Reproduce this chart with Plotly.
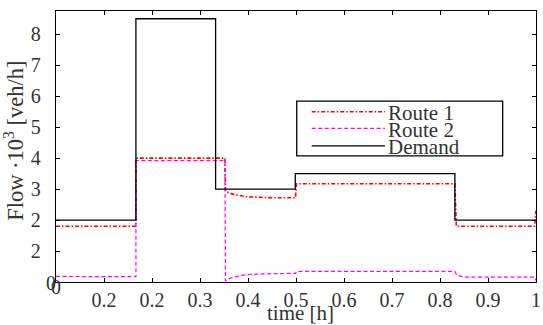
import plotly.graph_objects as go

# Demand steps (value holds from each time until the next)
t_demand = [0.0, 0.1665, 0.3325, 0.4985, 0.831, 1.0]
demand = [2.0, 8.5, 3.0, 3.5, 2.0, 2.0]

# Route 1 flow
t_route1 = [0.0, 0.1665, 0.1665, 0.352, 0.353, 0.36, 0.37, 0.38, 0.39, 0.40,
            0.42, 0.45, 0.499, 0.501, 0.831, 0.834, 0.997, 1.0]
route1 = [1.8, 1.8, 4.0, 4.0, 2.95, 2.88, 2.83, 2.79, 2.77, 2.75,
          2.73, 2.72, 2.72, 3.17, 3.17, 1.8, 1.8, 2.3]

# Route 2 flow
t_route2 = [0.0, 0.1665, 0.1665, 0.352, 0.353, 0.36, 0.37, 0.38, 0.39, 0.40,
            0.42, 0.45, 0.499, 0.501, 0.831, 0.835, 0.85, 0.997, 1.0]
route2 = [0.18, 0.17, 3.92, 3.92, 0.03, 0.10, 0.16, 0.20, 0.22, 0.24,
          0.26, 0.27, 0.28, 0.34, 0.34, 0.22, 0.16, 0.16, 0.05]

x_tickvals = [0.1, 0.2, 0.3, 0.4, 0.5, 0.6, 0.7, 0.8, 0.9, 1.0]
x_ticktext = ["0.2", "0.2", "0.3", "0.4", "0.5", "0.6", "0.7", "0.8", "0.9", "1"]
y_tickvals = [1, 2, 3, 4, 5, 6, 7, 8]
y_ticktext = ["2", "2", "3", "4", "5", "6", "7", "8"]

legend_names = ["Route 1", "Route 2", "Demand"]

FONT = "Liberation Serif"
TEXT = "#333333"
RED, MAGENTA, BLACK = "#ff0000", "#ff00ff", "#000000"
DASH1 = "4px,2px,1.5px,2px"
DASH2 = "4px,2.5px"

fig = go.Figure()
fig.add_trace(go.Scatter(x=t_route1, y=route1, mode="lines",
                         line=dict(color=RED, width=1.6, dash=DASH1)))
fig.add_trace(go.Scatter(x=t_route2, y=route2, mode="lines",
                         line=dict(color=MAGENTA, width=1.2, dash=DASH2)))
fig.add_trace(go.Scatter(x=t_demand, y=demand, mode="lines", line_shape="hv",
                         line=dict(color=BLACK, width=1.3)))

axis_common = dict(showgrid=False, zeroline=False, showline=True, linecolor="black",
                   linewidth=1.3, mirror="ticks", ticks="inside", ticklen=4,
                   tickcolor="black", tickwidth=1, automargin=False,
                   tickfont=dict(family=FONT, size=20, color=TEXT))

fig.update_xaxes(range=[0, 1], tickvals=x_tickvals, ticktext=x_ticktext,
                 ticklabelstandoff=0, **axis_common)
fig.update_yaxes(range=[0, 8.75], tickvals=y_tickvals, ticktext=y_ticktext,
                 ticklabelstandoff=10, **axis_common)

# Legend drawn as a framed box with line samples
box_x0, box_x1 = 0.5015, 0.9306
box_y0, box_y1 = 0.4655, 0.6675
row_y = [0.628, 0.5667, 0.5024]
sample_x0, sample_x1 = 0.5327, 0.6854
styles = [(RED, 1.6, DASH1), (MAGENTA, 1.2, DASH2), (BLACK, 1.3, "solid")]

shapes = [dict(type="rect", xref="paper", yref="paper", x0=box_x0, x1=box_x1,
               y0=box_y0, y1=box_y1, line=dict(color="black", width=1.3),
               fillcolor="white", layer="above")]
annotations = []
for name, yy, (c, w, d) in zip(legend_names, row_y, styles):
    shapes.append(dict(type="line", xref="paper", yref="paper", x0=sample_x0,
                       x1=sample_x1, y0=yy, y1=yy, line=dict(color=c, width=w, dash=d),
                       layer="above"))
    annotations.append(dict(xref="paper", yref="paper", x=sample_x1 + 0.002, y=yy - 0.004,
                            text=name, showarrow=False, xanchor="left", yanchor="middle",
                            font=dict(family=FONT, size=21, color=TEXT)))

# Corner zeros
annotations.append(dict(xref="paper", yref="paper", x=-0.0094, y=-0.003, text="0",
                        showarrow=False, xanchor="center", yanchor="middle",
                        font=dict(family=FONT, size=20, color=TEXT)))
annotations.append(dict(xref="paper", yref="paper", x=0.001, y=-0.0177, text="0",
                        showarrow=False, xanchor="center", yanchor="middle",
                        font=dict(family=FONT, size=20, color=TEXT)))

# Axis titles
annotations.append(dict(xref="paper", yref="paper", x=0.509, y=-0.115, text="time [h]",
                        showarrow=False, xanchor="center", yanchor="middle",
                        font=dict(family=FONT, size=21, color=TEXT)))
annotations.append(dict(xref="paper", y=0.52, yref="paper", x=-0.088,
                        text="Flow ·10<sup>3</sup> [veh/h]", textangle=-90,
                        showarrow=False, xanchor="center", yanchor="middle",
                        font=dict(family=FONT, size=22.5, color=TEXT)))

fig.update_layout(width=543, height=325, margin=dict(l=56, r=7, t=11, b=43),
                  plot_bgcolor="white", paper_bgcolor="white", showlegend=False,
                  shapes=shapes, annotations=annotations)

fig.write_html("out.html")
